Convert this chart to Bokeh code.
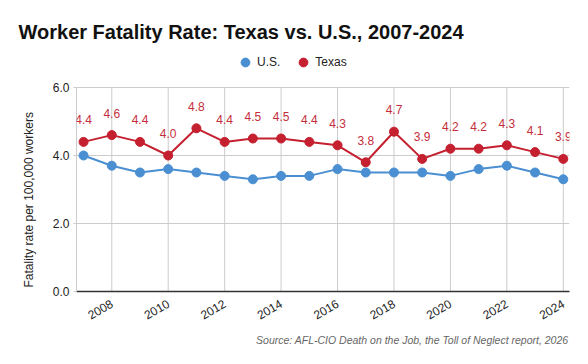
import math
from bokeh.plotting import figure
from bokeh.models import (Range1d, ColumnDataSource, LabelSet, Legend, LegendItem, Title,
                          FixedTicker, NumeralTickFormatter)
from bokeh.core.properties import value
from bokeh.embed import file_html
from bokeh.resources import INLINE

years = list(range(2007, 2025))
us_rate = [4.0, 3.7, 3.5, 3.6, 3.5, 3.4, 3.3, 3.4, 3.4, 3.6, 3.5, 3.5, 3.5, 3.4, 3.6, 3.7, 3.5, 3.3]
texas_rate = [4.4, 4.6, 4.4, 4.0, 4.8, 4.4, 4.5, 4.5, 4.4, 4.3, 3.8, 4.7, 3.9, 4.2, 4.2, 4.3, 4.1, 3.9]
x_ticks = [2008, 2010, 2012, 2014, 2016, 2018, 2020, 2022, 2024]
y_ticks = [0, 2, 4, 6]

title_text = "Worker Fatality Rate: Texas vs. U.S., 2007-2024"
source_text = "Source: AFL-CIO Death on the Job, the Toll of Neglect report, 2026"
y_label = "Fatality rate per 100,000 workers"

BLUE = "#4a8fd2"
RED = "#c5202f"
FONT = "Liberation Sans"

W, H = 579, 356
FL, FR, FT, FB = 76, 10, 45, 65
Y_MIN, Y_MAX = 0, 6
frame_h = H - FT - FB                    # pixels of plot frame
px_per_unit = (frame_h - (87 - FT)) / (Y_MAX - Y_MIN)
y_top = Y_MAX + (87 - FT) / px_per_unit  # headroom for legend inside frame

p = figure(width=W, height=H, output_backend="svg", toolbar_location=None,
           x_range=Range1d(2006.75, 2024.22), y_range=Range1d(Y_MIN, y_top),
           min_border_left=FL, min_border_right=FR, min_border_top=FT, min_border_bottom=FB)
p.title = None
p.outline_line_color = None
p.background_fill_color = "white"

src = ColumnDataSource(dict(year=years, us=us_rate, tx=texas_rate,
                            txl=["%.1f" % v for v in texas_rate]))

# vertical grid lines limited to the data area
p.segment(x0=x_ticks, y0=[Y_MIN] * len(x_ticks), x1=x_ticks, y1=[Y_MAX] * len(x_ticks),
          line_color="#cccccc", line_width=1)

p.line("year", "us", source=src, color=BLUE, line_width=2)
us_pts = p.scatter("year", "us", source=src, color=BLUE, size=9)
p.line("year", "tx", source=src, color=RED, line_width=2)
tx_pts = p.scatter("year", "tx", source=src, color=RED, size=9)

labels = LabelSet(x="year", y="tx", text="txl", source=src, y_offset=22,
                  text_align="center", text_baseline="middle",
                  text_font=value(FONT), text_font_size=value("12px"), text_color="#c42e3c")
p.add_layout(labels)

# axes
p.xaxis.ticker = FixedTicker(ticks=x_ticks)
p.xaxis.major_label_orientation = math.pi / 6
p.xaxis.major_label_text_font = FONT
p.xaxis.major_label_text_font_size = "12px"
p.xaxis.major_label_text_color = "#222222"
p.xaxis.major_tick_line_color = None
p.xaxis.minor_tick_line_color = None
p.xaxis.axis_line_color = "#333333"
p.xaxis.axis_line_width = 1.5
p.xaxis.major_label_standoff = 5

p.yaxis.ticker = FixedTicker(ticks=y_ticks)
p.yaxis.bounds = (Y_MIN, Y_MAX)
p.yaxis.formatter = NumeralTickFormatter(format="0.0")
p.yaxis.major_label_text_font = FONT
p.yaxis.major_label_text_font_size = "12px"
p.yaxis.major_label_text_color = "#222222"
p.yaxis.major_tick_line_color = "#cccccc"
p.yaxis.major_tick_in = 0
p.yaxis.major_tick_out = 3
p.yaxis.minor_tick_line_color = None
p.yaxis.axis_line_color = "#cccccc"
p.yaxis.major_label_standoff = 4

p.xgrid.grid_line_color = None
p.ygrid.grid_line_color = "#cccccc"

# y-axis title as a side title, starting just above the x axis
p.add_layout(Title(text=y_label, align="left", offset=4, standoff=27,
                   text_font=FONT, text_font_size="12px", text_font_style="normal",
                   text_color="#222222"), "left")

# legend inside the (extended) frame
legend = Legend(items=[LegendItem(label="U.S.", renderers=[us_pts]),
                       LegendItem(label="Texas", renderers=[tx_pts])],
                location=(158, 218), orientation="horizontal",
                glyph_width=22, glyph_height=22, label_standoff=1, spacing=12,
                padding=0, margin=0, border_line_color=None, background_fill_alpha=0,
                label_text_font=FONT, label_text_font_size="12px", label_text_color="#222222")
p.add_layout(legend, "center")

# main title
p.add_layout(Title(text=title_text, align="left", offset=-58, standoff=5,
                   text_font=FONT, text_font_size="20px", text_font_style="bold",
                   text_color="#111111"), "above")

# source note (below the x axis)
p.add_layout(Title(text=source_text, align="right", offset=1, standoff=10,
                   text_font=FONT, text_font_size="10.5px", text_font_style="italic",
                   text_color="#666666"), "below")

open("out.html", "w").write(file_html(p, INLINE))
